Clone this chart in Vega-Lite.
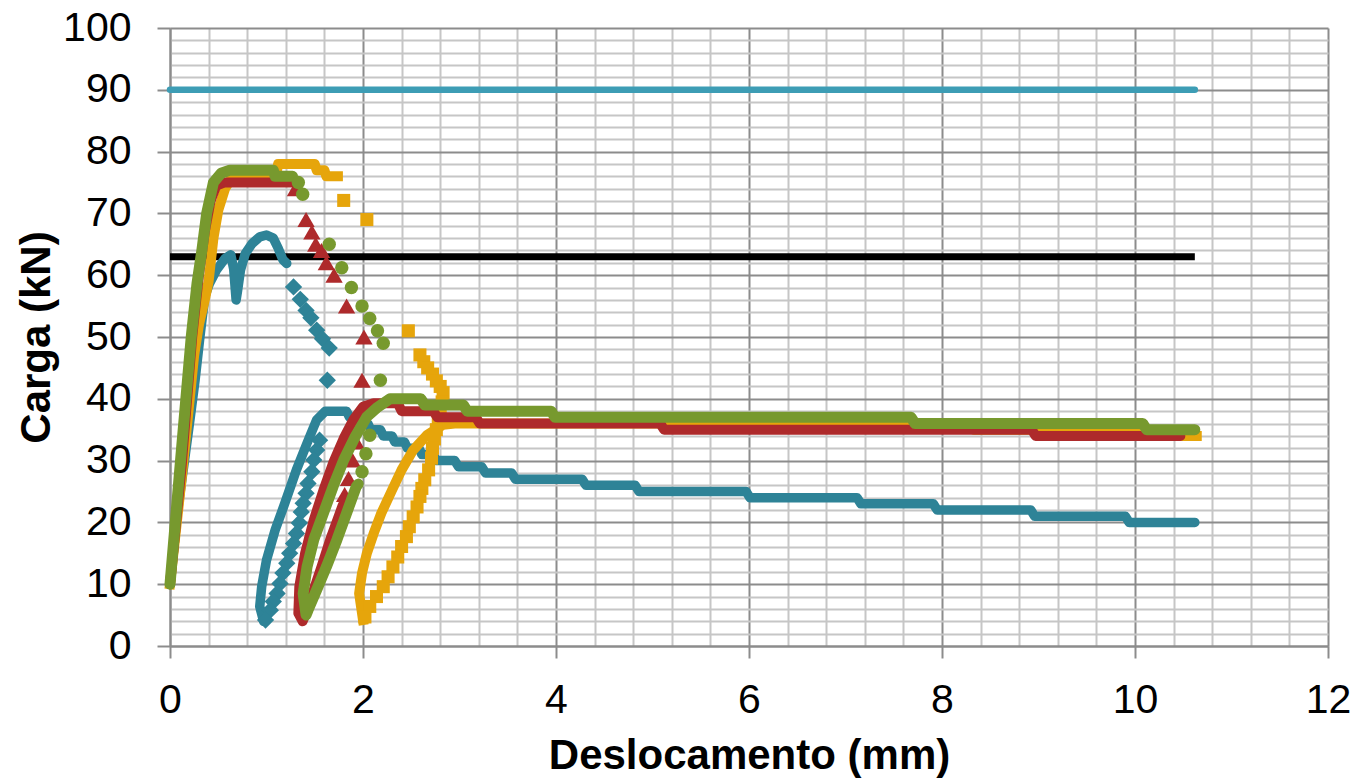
{
  "$schema": "https://vega.github.io/schema/vega-lite/v6.json",
  "width": 1158,
  "height": 618,
  "autosize": "none",
  "padding": {"left": 170, "top": 28, "right": 30, "bottom": 132},
  "background": "white",
  "config": {"view": {"stroke": null}, "font": "Liberation Sans"},
  "data": {"values": [
    {"s":"H90","k":"line","g":"H90","x":0,"y":90},{"s":"H90","k":"line","g":"H90","x":10.62,"y":90},
    {"s":"H63","k":"line","g":"H63","x":0,"y":63},{"s":"H63","k":"line","g":"H63","x":10.62,"y":63},

    {"s":"T","k":"line","g":"T1","x":0,"y":10},{"s":"T","k":"line","g":"T1","x":0.08,"y":22},{"s":"T","k":"line","g":"T1","x":0.15,"y":30},{"s":"T","k":"line","g":"T1","x":0.21,"y":37},{"s":"T","k":"line","g":"T1","x":0.26,"y":43},{"s":"T","k":"line","g":"T1","x":0.31,"y":50},{"s":"T","k":"line","g":"T1","x":0.36,"y":56.5},{"s":"T","k":"line","g":"T1","x":0.41,"y":58.7},{"s":"T","k":"line","g":"T1","x":0.48,"y":60.8},{"s":"T","k":"line","g":"T1","x":0.57,"y":62.7},{"s":"T","k":"line","g":"T1","x":0.63,"y":63.3},{"s":"T","k":"line","g":"T1","x":0.66,"y":61},{"s":"T","k":"line","g":"T1","x":0.685,"y":56},{"s":"T","k":"line","g":"T1","x":0.7,"y":57.5},{"s":"T","k":"line","g":"T1","x":0.73,"y":60.8},{"s":"T","k":"line","g":"T1","x":0.78,"y":63.5},{"s":"T","k":"line","g":"T1","x":0.85,"y":65.1},{"s":"T","k":"line","g":"T1","x":0.93,"y":66.2},{"s":"T","k":"line","g":"T1","x":1.0,"y":66.5},{"s":"T","k":"line","g":"T1","x":1.07,"y":66},{"s":"T","k":"line","g":"T1","x":1.12,"y":64.4},{"s":"T","k":"line","g":"T1","x":1.17,"y":62.5},{"s":"T","k":"line","g":"T1","x":1.21,"y":61.9},
    {"s":"T","k":"pt","x":1.28,"y":58.1},{"s":"T","k":"pt","x":1.35,"y":56.1},{"s":"T","k":"pt","x":1.41,"y":54.3},{"s":"T","k":"pt","x":1.46,"y":53.1},{"s":"T","k":"pt","x":1.52,"y":51.1},{"s":"T","k":"pt","x":1.58,"y":49.7},{"s":"T","k":"pt","x":1.65,"y":48.2},{"s":"T","k":"pt","x":1.63,"y":43},{"s":"T","k":"pt","x":1.55,"y":33.3},{"s":"T","k":"pt","x":1.52,"y":31.7},{"s":"T","k":"pt","x":1.49,"y":30.1},{"s":"T","k":"pt","x":1.47,"y":28.2},{"s":"T","k":"pt","x":1.43,"y":26.3},{"s":"T","k":"pt","x":1.41,"y":24.7},{"s":"T","k":"pt","x":1.38,"y":23.1},{"s":"T","k":"pt","x":1.36,"y":21.7},{"s":"T","k":"pt","x":1.34,"y":19.9},{"s":"T","k":"pt","x":1.31,"y":18.2},{"s":"T","k":"pt","x":1.28,"y":16.6},{"s":"T","k":"pt","x":1.24,"y":15},{"s":"T","k":"pt","x":1.21,"y":13.4},{"s":"T","k":"pt","x":1.17,"y":11.8},{"s":"T","k":"pt","x":1.14,"y":10.1},{"s":"T","k":"pt","x":1.11,"y":8.5},{"s":"T","k":"pt","x":1.07,"y":7.2},{"s":"T","k":"pt","x":1.04,"y":5.8},{"s":"T","k":"pt","x":0.99,"y":4.2},
    {"s":"T","k":"line","g":"T2","x":0.97,"y":4},{"s":"T","k":"line","g":"T2","x":0.93,"y":6.4},{"s":"T","k":"line","g":"T2","x":0.95,"y":9.6},{"s":"T","k":"line","g":"T2","x":1.0,"y":13.9},{"s":"T","k":"line","g":"T2","x":1.09,"y":18.8},{"s":"T","k":"line","g":"T2","x":1.19,"y":23.1},{"s":"T","k":"line","g":"T2","x":1.31,"y":28.5},{"s":"T","k":"line","g":"T2","x":1.42,"y":32.8},{"s":"T","k":"line","g":"T2","x":1.52,"y":36.6},{"s":"T","k":"line","g":"T2","x":1.61,"y":38},{"s":"T","k":"line","g":"T2","x":1.83,"y":38},{"s":"T","k":"line","g":"T2","x":1.86,"y":37},{"s":"T","k":"line","g":"T2","x":1.95,"y":37},{"s":"T","k":"line","g":"T2","x":1.98,"y":36},{"s":"T","k":"line","g":"T2","x":2.05,"y":36},{"s":"T","k":"line","g":"T2","x":2.08,"y":35},{"s":"T","k":"line","g":"T2","x":2.18,"y":35},{"s":"T","k":"line","g":"T2","x":2.21,"y":34},{"s":"T","k":"line","g":"T2","x":2.3,"y":34},{"s":"T","k":"line","g":"T2","x":2.33,"y":33},{"s":"T","k":"line","g":"T2","x":2.43,"y":33},{"s":"T","k":"line","g":"T2","x":2.46,"y":32},{"s":"T","k":"line","g":"T2","x":2.58,"y":32},{"s":"T","k":"line","g":"T2","x":2.61,"y":31},{"s":"T","k":"line","g":"T2","x":2.73,"y":31},{"s":"T","k":"line","g":"T2","x":2.76,"y":30},{"s":"T","k":"line","g":"T2","x":2.95,"y":30},{"s":"T","k":"line","g":"T2","x":2.99,"y":29},{"s":"T","k":"line","g":"T2","x":3.23,"y":29},{"s":"T","k":"line","g":"T2","x":3.27,"y":28},{"s":"T","k":"line","g":"T2","x":3.54,"y":28},{"s":"T","k":"line","g":"T2","x":3.58,"y":27},{"s":"T","k":"line","g":"T2","x":4.27,"y":27},{"s":"T","k":"line","g":"T2","x":4.31,"y":26},{"s":"T","k":"line","g":"T2","x":4.82,"y":26},{"s":"T","k":"line","g":"T2","x":4.86,"y":25},{"s":"T","k":"line","g":"T2","x":5.97,"y":25},{"s":"T","k":"line","g":"T2","x":6.01,"y":24},{"s":"T","k":"line","g":"T2","x":7.12,"y":24},{"s":"T","k":"line","g":"T2","x":7.16,"y":23},{"s":"T","k":"line","g":"T2","x":7.91,"y":23},{"s":"T","k":"line","g":"T2","x":7.95,"y":22},{"s":"T","k":"line","g":"T2","x":8.92,"y":22},{"s":"T","k":"line","g":"T2","x":8.96,"y":21},{"s":"T","k":"line","g":"T2","x":9.9,"y":21},{"s":"T","k":"line","g":"T2","x":9.94,"y":20},{"s":"T","k":"line","g":"T2","x":10.62,"y":20},

    {"s":"O","k":"line","g":"O1","x":0,"y":10},{"s":"O","k":"line","g":"O1","x":0.12,"y":27},{"s":"O","k":"line","g":"O1","x":0.25,"y":47},{"s":"O","k":"line","g":"O1","x":0.3,"y":52},{"s":"O","k":"line","g":"O1","x":0.36,"y":56},{"s":"O","k":"line","g":"O1","x":0.4,"y":59},{"s":"O","k":"line","g":"O1","x":0.45,"y":66},{"s":"O","k":"line","g":"O1","x":0.5,"y":70.5},{"s":"O","k":"line","g":"O1","x":0.57,"y":74},{"s":"O","k":"line","g":"O1","x":0.65,"y":76},{"s":"O","k":"line","g":"O1","x":1.1,"y":76},{"s":"O","k":"line","g":"O1","x":1.12,"y":78},{"s":"O","k":"line","g":"O1","x":1.5,"y":78},{"s":"O","k":"line","g":"O1","x":1.52,"y":77},{"s":"O","k":"line","g":"O1","x":1.6,"y":77},{"s":"O","k":"line","g":"O1","x":1.62,"y":76},{"s":"O","k":"line","g":"O1","x":1.74,"y":76},
    {"s":"O","k":"pt","x":1.8,"y":72.1},{"s":"O","k":"pt","x":2.04,"y":69},{"s":"O","k":"pt","x":2.47,"y":51},{"s":"O","k":"pt","x":2.59,"y":47.1},{"s":"O","k":"pt","x":2.63,"y":46},{"s":"O","k":"pt","x":2.67,"y":45},{"s":"O","k":"pt","x":2.72,"y":44},{"s":"O","k":"pt","x":2.76,"y":42.9},{"s":"O","k":"pt","x":2.8,"y":42},{"s":"O","k":"pt","x":2.83,"y":41},{"s":"O","k":"pt","x":2.82,"y":39.5},{"s":"O","k":"pt","x":2.8,"y":38},{"s":"O","k":"pt","x":2.78,"y":36.5},{"s":"O","k":"pt","x":2.76,"y":35},{"s":"O","k":"pt","x":2.74,"y":33.5},{"s":"O","k":"pt","x":2.72,"y":32},{"s":"O","k":"pt","x":2.71,"y":30.4},{"s":"O","k":"pt","x":2.68,"y":28.5},{"s":"O","k":"pt","x":2.64,"y":26.9},{"s":"O","k":"pt","x":2.61,"y":25.5},{"s":"O","k":"pt","x":2.59,"y":24.2},{"s":"O","k":"pt","x":2.56,"y":22.5},{"s":"O","k":"pt","x":2.52,"y":20.9},{"s":"O","k":"pt","x":2.48,"y":19.3},{"s":"O","k":"pt","x":2.45,"y":17.7},{"s":"O","k":"pt","x":2.4,"y":16.1},{"s":"O","k":"pt","x":2.36,"y":14.4},{"s":"O","k":"pt","x":2.31,"y":12.8},{"s":"O","k":"pt","x":2.26,"y":11.2},{"s":"O","k":"pt","x":2.21,"y":9.6},{"s":"O","k":"pt","x":2.14,"y":8},{"s":"O","k":"pt","x":2.07,"y":6.4},{"s":"O","k":"pt","x":2.02,"y":4.7},
    {"s":"O","k":"line","g":"O2","x":2.0,"y":4.2},{"s":"O","k":"line","g":"O2","x":1.96,"y":8.5},{"s":"O","k":"line","g":"O2","x":1.99,"y":11.8},{"s":"O","k":"line","g":"O2","x":2.04,"y":15},{"s":"O","k":"line","g":"O2","x":2.11,"y":18.2},{"s":"O","k":"line","g":"O2","x":2.19,"y":21.5},{"s":"O","k":"line","g":"O2","x":2.3,"y":25.2},{"s":"O","k":"line","g":"O2","x":2.4,"y":28.5},{"s":"O","k":"line","g":"O2","x":2.52,"y":31.7},{"s":"O","k":"line","g":"O2","x":2.66,"y":34.1},{"s":"O","k":"line","g":"O2","x":2.83,"y":35.8},{"s":"O","k":"line","g":"O2","x":2.95,"y":36},{"s":"O","k":"line","g":"O2","x":8.3,"y":36},{"s":"O","k":"line","g":"O2","x":8.33,"y":35},{"s":"O","k":"line","g":"O2","x":10.0,"y":35},{"s":"O","k":"line","g":"O2","x":10.03,"y":34},{"s":"O","k":"line","g":"O2","x":10.64,"y":34},

    {"s":"R","k":"line","g":"R1","x":0,"y":10},{"s":"R","k":"line","g":"R1","x":0.12,"y":29},{"s":"R","k":"line","g":"R1","x":0.23,"y":50},{"s":"R","k":"line","g":"R1","x":0.3,"y":60},{"s":"R","k":"line","g":"R1","x":0.36,"y":67},{"s":"R","k":"line","g":"R1","x":0.42,"y":72},{"s":"R","k":"line","g":"R1","x":0.48,"y":74.5},{"s":"R","k":"line","g":"R1","x":0.56,"y":75},{"s":"R","k":"line","g":"R1","x":1.28,"y":75},
    {"s":"R","k":"pt","x":1.3,"y":74},{"s":"R","k":"pt","x":1.41,"y":69},{"s":"R","k":"pt","x":1.47,"y":67},{"s":"R","k":"pt","x":1.51,"y":65},{"s":"R","k":"pt","x":1.57,"y":64},{"s":"R","k":"pt","x":1.62,"y":62},{"s":"R","k":"pt","x":1.7,"y":60},{"s":"R","k":"pt","x":1.83,"y":55},{"s":"R","k":"pt","x":2.01,"y":50},{"s":"R","k":"pt","x":1.99,"y":43},{"s":"R","k":"pt","x":1.93,"y":33},{"s":"R","k":"pt","x":1.89,"y":30.1},{"s":"R","k":"pt","x":1.85,"y":27.1},{"s":"R","k":"pt","x":1.81,"y":24.5},
    {"s":"R","k":"line","g":"R2","x":1.79,"y":22.8},{"s":"R","k":"line","g":"R2","x":1.76,"y":21.5},{"s":"R","k":"line","g":"R2","x":1.66,"y":17.2},{"s":"R","k":"line","g":"R2","x":1.57,"y":12.8},{"s":"R","k":"line","g":"R2","x":1.49,"y":9.1},{"s":"R","k":"line","g":"R2","x":1.42,"y":5.8},{"s":"R","k":"line","g":"R2","x":1.375,"y":4},{"s":"R","k":"line","g":"R2","x":1.33,"y":5.3},{"s":"R","k":"line","g":"R2","x":1.34,"y":9.6},{"s":"R","k":"line","g":"R2","x":1.4,"y":15},{"s":"R","k":"line","g":"R2","x":1.49,"y":20.4},{"s":"R","k":"line","g":"R2","x":1.59,"y":25.2},{"s":"R","k":"line","g":"R2","x":1.69,"y":29.6},{"s":"R","k":"line","g":"R2","x":1.8,"y":33.6},{"s":"R","k":"line","g":"R2","x":1.9,"y":36.6},{"s":"R","k":"line","g":"R2","x":2.0,"y":38.7},{"s":"R","k":"line","g":"R2","x":2.11,"y":39.3},{"s":"R","k":"line","g":"R2","x":2.36,"y":39.3},{"s":"R","k":"line","g":"R2","x":2.4,"y":38},{"s":"R","k":"line","g":"R2","x":2.73,"y":38},{"s":"R","k":"line","g":"R2","x":2.77,"y":37},{"s":"R","k":"line","g":"R2","x":3.17,"y":37},{"s":"R","k":"line","g":"R2","x":3.21,"y":36},{"s":"R","k":"line","g":"R2","x":5.08,"y":36},{"s":"R","k":"line","g":"R2","x":5.12,"y":35},{"s":"R","k":"line","g":"R2","x":8.93,"y":35},{"s":"R","k":"line","g":"R2","x":8.97,"y":34},{"s":"R","k":"line","g":"R2","x":10.47,"y":34},

    {"s":"G","k":"line","g":"G1","x":0,"y":10},{"s":"G","k":"line","g":"G1","x":0.12,"y":32},{"s":"G","k":"line","g":"G1","x":0.22,"y":50},{"s":"G","k":"line","g":"G1","x":0.28,"y":58.7},{"s":"G","k":"line","g":"G1","x":0.33,"y":64},{"s":"G","k":"line","g":"G1","x":0.38,"y":70},{"s":"G","k":"line","g":"G1","x":0.45,"y":75},{"s":"G","k":"line","g":"G1","x":0.53,"y":76.5},{"s":"G","k":"line","g":"G1","x":0.62,"y":77},{"s":"G","k":"line","g":"G1","x":1.07,"y":77},{"s":"G","k":"line","g":"G1","x":1.09,"y":76},{"s":"G","k":"line","g":"G1","x":1.27,"y":76},
    {"s":"G","k":"pt","x":1.33,"y":75},{"s":"G","k":"pt","x":1.375,"y":73.1},{"s":"G","k":"pt","x":1.65,"y":65},{"s":"G","k":"pt","x":1.78,"y":61.2},{"s":"G","k":"pt","x":1.88,"y":58},{"s":"G","k":"pt","x":1.99,"y":55},{"s":"G","k":"pt","x":2.07,"y":53},{"s":"G","k":"pt","x":2.15,"y":51},{"s":"G","k":"pt","x":2.21,"y":49},{"s":"G","k":"pt","x":2.18,"y":43},{"s":"G","k":"pt","x":2.07,"y":34.1},{"s":"G","k":"pt","x":2.03,"y":31.1},{"s":"G","k":"pt","x":1.99,"y":28.2},
    {"s":"G","k":"line","g":"G2","x":1.95,"y":26.2},{"s":"G","k":"line","g":"G2","x":1.93,"y":25.8},{"s":"G","k":"line","g":"G2","x":1.83,"y":21.5},{"s":"G","k":"line","g":"G2","x":1.73,"y":17.2},{"s":"G","k":"line","g":"G2","x":1.62,"y":12.8},{"s":"G","k":"line","g":"G2","x":1.52,"y":9.1},{"s":"G","k":"line","g":"G2","x":1.43,"y":5.8},{"s":"G","k":"line","g":"G2","x":1.41,"y":5},{"s":"G","k":"line","g":"G2","x":1.38,"y":8.5},{"s":"G","k":"line","g":"G2","x":1.42,"y":12.8},{"s":"G","k":"line","g":"G2","x":1.49,"y":17.2},{"s":"G","k":"line","g":"G2","x":1.59,"y":21.5},{"s":"G","k":"line","g":"G2","x":1.69,"y":25.8},{"s":"G","k":"line","g":"G2","x":1.8,"y":30.1},{"s":"G","k":"line","g":"G2","x":1.92,"y":33.9},{"s":"G","k":"line","g":"G2","x":2.04,"y":37.1},{"s":"G","k":"line","g":"G2","x":2.14,"y":38.5},{"s":"G","k":"line","g":"G2","x":2.28,"y":40},{"s":"G","k":"line","g":"G2","x":2.6,"y":40},{"s":"G","k":"line","g":"G2","x":2.64,"y":39},{"s":"G","k":"line","g":"G2","x":3.04,"y":39},{"s":"G","k":"line","g":"G2","x":3.08,"y":38},{"s":"G","k":"line","g":"G2","x":3.95,"y":38},{"s":"G","k":"line","g":"G2","x":3.99,"y":37},{"s":"G","k":"line","g":"G2","x":7.68,"y":37},{"s":"G","k":"line","g":"G2","x":7.72,"y":36},{"s":"G","k":"line","g":"G2","x":10.08,"y":36},{"s":"G","k":"line","g":"G2","x":10.12,"y":35},{"s":"G","k":"line","g":"G2","x":10.62,"y":35}
  ]},
  "encoding": {
    "x": {
      "field": "x", "type": "quantitative",
      "scale": {"domain": [0, 12], "nice": false, "zero": false},
      "axis": {
        "title": "Deslocamento (mm)",
        "values": [0,0.4,0.8,1.2,1.6,2,2.4,2.8,3.2,3.6,4,4.4,4.8,5.2,5.6,6,6.4,6.8,7.2,7.6,8,8.4,8.8,9.2,9.6,10,10.4,10.8,11.2,11.6,12],
        "labelExpr": "datum.value % 2 === 0 ? '' + datum.value : ''",
        "labelOverlap": false, "labelFlush": false, "labelBound": false,
        "labelFont": "Liberation Sans", "labelFontSize": 41, "labelColor": "#000000", "labelPadding": 22,
        "grid": true, "gridWidth": 2,
        "gridColor": {"condition": {"test": "datum.value % 2 === 0", "value": "#8c8c8c"}, "value": "#c6c6c6"},
        "tickSize": 12, "tickWidth": 2,
        "tickColor": {"condition": {"test": "datum.value % 2 === 0", "value": "#8c8c8c"}, "value": "transparent"},
        "domainColor": "#8c8c8c", "domainWidth": 2,
        "titleFont": "Liberation Sans", "titleFontSize": 42, "titleFontWeight": "bold", "titleColor": "#000000",
        "titleX": 579, "titleY": 122, "titleBaseline": "alphabetic", "titleAlign": "center"
      }
    },
    "y": {
      "field": "y", "type": "quantitative",
      "scale": {"domain": [0, 100], "nice": false},
      "axis": {
        "title": "Carga (kN)",
        "values": [0,2,4,6,8,10,12,14,16,18,20,22,24,26,28,30,32,34,36,38,40,42,44,46,48,50,52,54,56,58,60,62,64,66,68,70,72,74,76,78,80,82,84,86,88,90,92,94,96,98,100],
        "labelExpr": "datum.value % 10 === 0 ? '' + datum.value : ''",
        "labelOverlap": false, "labelBound": false, "labelFlush": false,
        "labelFont": "Liberation Sans", "labelFontSize": 41, "labelColor": "#000000", "labelPadding": 26,
        "grid": true, "gridWidth": 2,
        "gridColor": {"condition": {"test": "datum.value % 10 === 0", "value": "#8c8c8c"}, "value": "#c6c6c6"},
        "tickSize": 13, "tickWidth": 2,
        "tickColor": {"condition": {"test": "datum.value % 10 === 0", "value": "#8c8c8c"}, "value": "transparent"},
        "domainColor": "#8c8c8c", "domainWidth": 2,
        "titleFont": "Liberation Sans", "titleFontSize": 42, "titleFontWeight": "bold", "titleColor": "#000000",
        "titleX": -121, "titleY": 309, "titleAngle": -90, "titleBaseline": "alphabetic", "titleAlign": "center"
      }
    }
  },
  "layer": [
    {"transform": [{"filter": "datum.s === 'H90'"}], "mark": {"type": "line", "color": "#3d9db5", "strokeWidth": 6.5, "strokeCap": "round"}, "encoding": {"order": {"value": null}}},
    {"transform": [{"filter": "datum.s === 'H63'"}], "mark": {"type": "line", "color": "#000000", "strokeWidth": 7, "strokeCap": "butt"}, "encoding": {"order": {"value": null}}},
    {"transform": [{"filter": "datum.s === 'T' && datum.k === 'line'"}], "mark": {"type": "line", "color": "#2e8397", "strokeWidth": 9.5, "strokeCap": "round", "strokeJoin": "round"}, "encoding": {"detail": {"field": "g"}, "order": {"value": null}}},
    {"transform": [{"filter": "datum.s === 'T' && datum.k === 'pt'"}], "mark": {"type": "point", "shape": "diamond", "filled": true, "color": "#2e8397", "size": 300, "opacity": 1}},
    {"transform": [{"filter": "datum.s === 'O' && datum.k === 'line'"}], "mark": {"type": "line", "color": "#e6a50b", "strokeWidth": 10, "strokeCap": "square", "strokeJoin": "round"}, "encoding": {"detail": {"field": "g"}, "order": {"value": null}}},
    {"transform": [{"filter": "datum.s === 'O' && datum.k === 'pt'"}], "mark": {"type": "point", "shape": "square", "filled": true, "color": "#e6a50b", "size": 170, "opacity": 1}},
    {"transform": [{"filter": "datum.s === 'R' && datum.k === 'line'"}], "mark": {"type": "line", "color": "#ae2a2b", "strokeWidth": 10, "strokeCap": "round", "strokeJoin": "round"}, "encoding": {"detail": {"field": "g"}, "order": {"value": null}}},
    {"transform": [{"filter": "datum.s === 'R' && datum.k === 'pt'"}], "mark": {"type": "point", "shape": "triangle-up", "filled": true, "color": "#ae2a2b", "size": 300, "opacity": 1}},
    {"transform": [{"filter": "datum.s === 'G' && datum.k === 'line'"}], "mark": {"type": "line", "color": "#77992e", "strokeWidth": 11, "strokeCap": "round", "strokeJoin": "round"}, "encoding": {"detail": {"field": "g"}, "order": {"value": null}}},
    {"transform": [{"filter": "datum.s === 'G' && datum.k === 'pt'"}], "mark": {"type": "point", "shape": "circle", "filled": true, "color": "#77992e", "size": 180, "opacity": 1}}
  ]
}
